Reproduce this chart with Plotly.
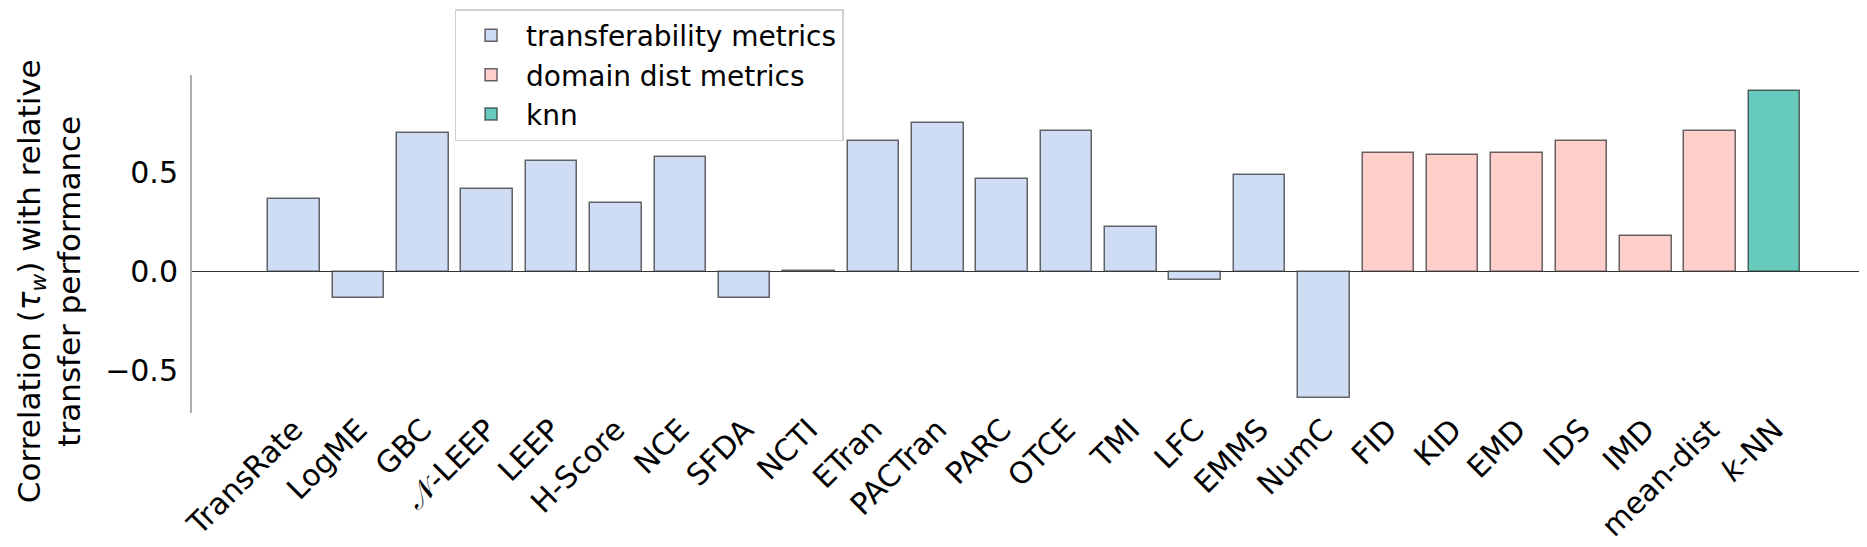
import plotly.graph_objects as go

# ---- data ----
transfer_names = ["TransRate", "LogME", "GBC", "𝒩-LEEP", "LEEP", "H-Score", "NCE", "SFDA",
                  "NCTI", "ETran", "PACTran", "PARC", "OTCE", "TMI", "LFC", "EMMS", "NumC"]
transfer_vals = [0.365, -0.132, 0.698, 0.417, 0.559, 0.345, 0.577, -0.135,
                 0.003, 0.660, 0.750, 0.468, 0.710, 0.224, -0.042, 0.486, -0.640]
domain_names = ["FID", "KID", "EMD", "IDS", "IMD", "mean-dist"]
domain_vals = [0.597, 0.587, 0.597, 0.658, 0.182, 0.710]
knn_names = ["<i>k</i>-NN"]
knn_vals = [0.912]

all_names = transfer_names + domain_names + knn_names
n_t, n_d, n_k = len(transfer_names), len(domain_names), len(knn_names)
x_t = list(range(n_t))
x_d = list(range(n_t, n_t + n_d))
x_k = list(range(n_t + n_d, n_t + n_d + n_k))

FONT = "DejaVu Sans"
edge = dict(color="rgba(40,40,40,0.7)", width=1.5)

fig = go.Figure()
fig.add_trace(go.Bar(x=x_t, y=transfer_vals, width=0.8, name="transferability metrics",
                     marker=dict(color="#cedcf4", line=edge)))
fig.add_trace(go.Bar(x=x_d, y=domain_vals, width=0.8, name="domain dist metrics",
                     marker=dict(color="#ffcfcc", line=edge)))
fig.add_trace(go.Bar(x=x_k, y=knn_vals, width=0.8, name="knn",
                     marker=dict(color="#66cabd", line=edge)))

fig.update_layout(
    width=1867, height=547,
    margin=dict(l=184, r=0, t=67, b=142, autoexpand=False),
    plot_bgcolor="white", paper_bgcolor="white",
    font=dict(family=FONT, size=30, color="black"),
    showlegend=True,
    legend=dict(x=0.156, y=0.998, xref="paper", yref="container",
                xanchor="left", yanchor="top",
                font=dict(family=FONT, size=28, color="black"),
                bgcolor="rgba(255,255,255,0.9)", bordercolor="#d0d0d0", borderwidth=1.5,
                itemwidth=60, tracegroupgap=4),
    bargap=0,
)
fig.update_xaxes(
    range=[-1.585, 24.56],
    tickmode="array", tickvals=list(range(len(all_names))), ticktext=all_names,
    tickangle=-45, tickfont=dict(family=FONT, size=30, color="black"),
    showgrid=False, zeroline=False, showline=False, ticks="",
    ticklabelstandoff=-8,
)
fig.update_yaxes(
    range=[-0.714, 0.993],
    tickmode="array", tickvals=[-0.5, 0.0, 0.5], ticktext=["\u22120.5", "0.0", "0.5"],
    tickfont=dict(family=FONT, size=30, color="black"),
    showgrid=False, showline=True, linecolor="#b0b0b0", linewidth=2,
    zeroline=True, zerolinecolor="#333333", zerolinewidth=1.2,
    ticks="", ticklabelstandoff=6,
)
fig.add_annotation(
    text="Correlation (<i>τ<sub>w</sub></i>) with relative<br>transfer performance",
    textangle=-90, showarrow=False,
    xref="paper", yref="paper", x=-0.085, y=0.39, xanchor="center", yanchor="middle",
    font=dict(family=FONT, size=31, color="black"),
)

fig.write_html("out.html")
